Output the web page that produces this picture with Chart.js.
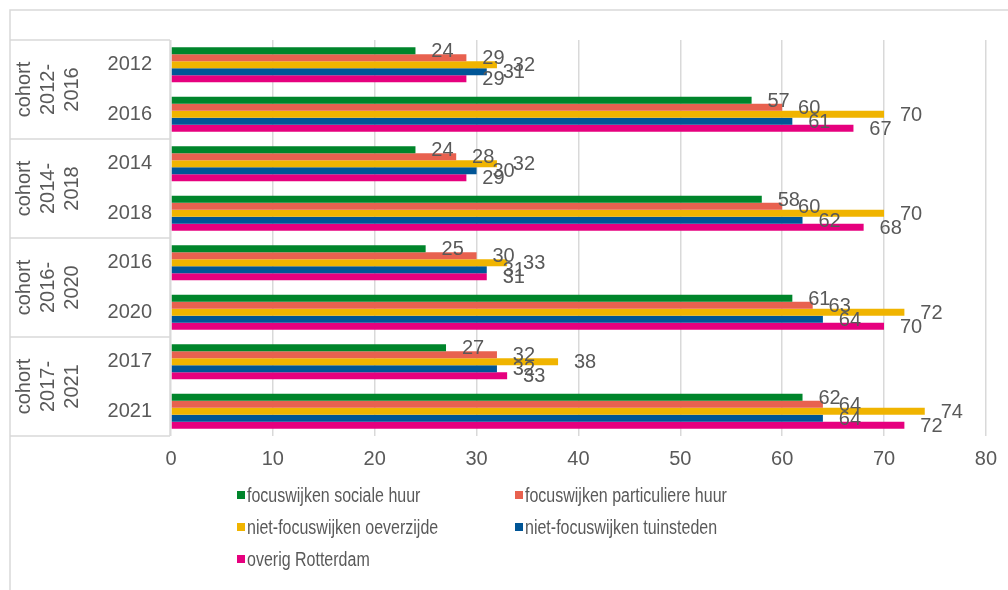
<!DOCTYPE html>
<html>
<head>
<meta charset="utf-8">
<script src="https://cdn.jsdelivr.net/npm/chart.js@4.4.0/dist/chart.umd.min.js"></script>
<style>
  html, body { margin: 0; padding: 0; background: #fff; }
</style>
</head>
<body>
<canvas id="chart" width="1008" height="590"></canvas>
<script>
// data
const years = ['2012', '2016', '2014', '2018', '2016', '2020', '2017', '2021'];
const cohorts = [['cohort', '2012-', '2016'], ['cohort', '2014-', '2018'], ['cohort', '2016-', '2020'], ['cohort', '2017-', '2021']];
const socialeHuur = [24, 57, 24, 58, 25, 61, 27, 62];
const particuliereHuur = [29, 60, 28, 60, 30, 63, 32, 64];
const oeverzijde = [32, 70, 32, 70, 33, 72, 38, 74];
const tuinsteden = [31, 61, 30, 62, 31, 64, 32, 64];
const overigRotterdam = [29, 67, 29, 68, 31, 70, 33, 72];
const xTicks = [0, 10, 20, 30, 40, 50, 60, 70, 80];

const grey = '#595959';
const lineGrey = '#d9d9d9';
const font = 'Arial, "Liberation Sans", sans-serif';

const extras = {
    id: 'extras',
    beforeDraw(chart) {
        const ctx = chart.ctx;
        const area = chart.chartArea;
        const y = chart.scales.y;
        const half = (area.bottom - area.top) / years.length / 2;
        ctx.save();
        ctx.strokeStyle = lineGrey;
        ctx.lineWidth = 1.5;
        // outer frame
        ctx.beginPath();
        ctx.moveTo(10, 590);
        ctx.lineTo(10, 10);
        ctx.lineTo(1008, 10);
        ctx.stroke();
        // cohort boxes
        ctx.beginPath();
        ctx.moveTo(area.left - 1, area.top);
        ctx.lineTo(area.left - 1, area.bottom);
        for (let i = 0; i <= cohorts.length; i++) {
            const py = i < cohorts.length ? y.getPixelForValue(i * 2) - half : area.bottom;
            ctx.moveTo(10, py);
            ctx.lineTo(area.left - 1, py);
        }
        ctx.stroke();
        // cohort labels, rotated
        ctx.fillStyle = grey;
        ctx.font = '20px ' + font;
        ctx.textAlign = 'center';
        ctx.textBaseline = 'middle';
        cohorts.forEach((lines, i) => {
            const cy = (y.getPixelForValue(i * 2) + y.getPixelForValue(i * 2 + 1)) / 2;
            ctx.save();
            ctx.translate(48, cy);
            ctx.rotate(-Math.PI / 2);
            lines.forEach((t, j) => ctx.fillText(t, 0, (j - 1) * 24));
            ctx.restore();
        });
        ctx.restore();
    },
    afterDatasetsDraw(chart) {
        const ctx = chart.ctx;
        ctx.save();
        ctx.fillStyle = grey;
        ctx.font = '20px ' + font;
        ctx.textAlign = 'center';
        ctx.textBaseline = 'middle';
        chart.data.datasets.forEach((ds, i) => {
            chart.getDatasetMeta(i).data.forEach((bar, j) => {
                ctx.fillText(ds.data[j], bar.x + 27, bar.y + 1);
            });
        });
        ctx.restore();
    },
    afterDraw(chart) {
        // legend in two columns
        const ctx = chart.ctx;
        const cols = [237, 515];
        const rows = [495, 527, 559];
        ctx.save();
        ctx.font = '20px ' + font;
        ctx.textBaseline = 'middle';
        chart.data.datasets.forEach((ds, i) => {
            const lx = cols[i % 2];
            const ly = rows[Math.floor(i / 2)];
            ctx.fillStyle = ds.backgroundColor;
            ctx.fillRect(lx, ly - 4, 8, 8);
            ctx.fillStyle = grey;
            ctx.save();
            ctx.translate(lx + 10, ly + 1);
            ctx.scale(0.8, 1);
            ctx.fillText(ds.label, 0, 0);
            ctx.restore();
        });
        ctx.restore();
    }
};

new Chart(document.getElementById('chart'), {
    type: 'bar',
    data: {
        labels: years,
        datasets: [
            { label: 'focuswijken sociale huur', data: socialeHuur, backgroundColor: '#00852b' },
            { label: 'focuswijken particuliere huur', data: particuliereHuur, backgroundColor: '#e8614f' },
            { label: 'niet-focuswijken oeverzijde', data: oeverzijde, backgroundColor: '#f0b400' },
            { label: 'niet-focuswijken tuinsteden', data: tuinsteden, backgroundColor: '#005596' },
            { label: 'overig Rotterdam', data: overigRotterdam, backgroundColor: '#e6007e' }
        ]
    },
    options: {
        responsive: false,
        animation: false,
        indexAxis: 'y',
        categoryPercentage: 0.71,
        barPercentage: 1,
        layout: { padding: { top: 40, right: 21, left: 0, bottom: 0 } },
        plugins: {
            legend: { display: false },
            tooltip: { enabled: false }
        },
        scales: {
            x: {
                min: 0,
                max: 80,
                afterBuildTicks: (s) => { s.ticks = xTicks.map(v => ({ value: v })); },
                afterFit: (s) => { s.height = 154; },
                ticks: { color: grey, font: { size: 20, family: font }, padding: 11 },
                grid: { color: lineGrey, lineWidth: 1.5, drawTicks: false },
                border: { display: false }
            },
            y: {
                afterFit: (s) => { s.width = 171; },
                ticks: { color: grey, font: { size: 20, family: font }, padding: 19 },
                grid: { display: false, drawTicks: false },
                border: { display: false }
            }
        }
    },
    plugins: [extras]
});
</script>
</body>
</html>
